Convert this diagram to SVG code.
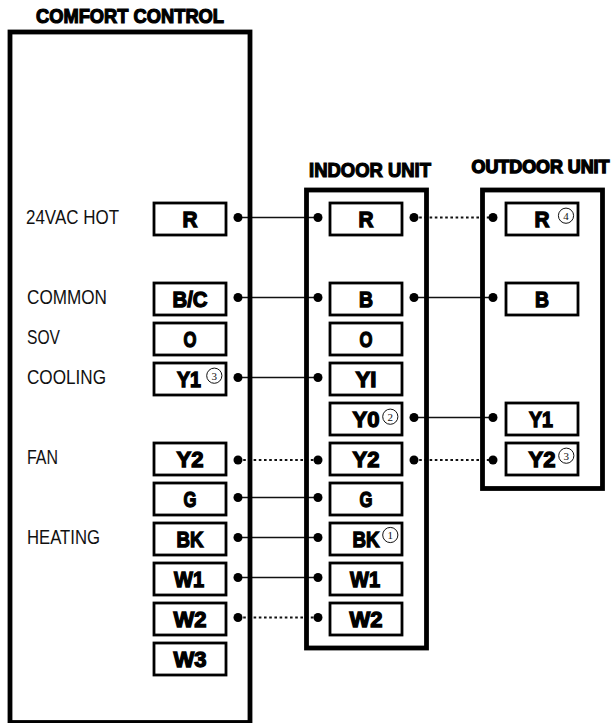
<svg xmlns="http://www.w3.org/2000/svg" width="613" height="723" viewBox="0 0 613 723">
<style>
.frame{fill:none;stroke:#000;stroke-width:4.8}
.box{fill:#fff;stroke:#000;stroke-width:2.8}
.t{font-family:"Liberation Sans",Arial,sans-serif;font-weight:700;font-size:21.5px;fill:#000;stroke:#000;stroke-width:1.3;text-anchor:middle}
.h{font-family:"Liberation Sans",Arial,sans-serif;font-weight:700;font-size:19.5px;fill:#000;stroke:#000;stroke-width:1.2}
.l{font-family:"Liberation Sans",Arial,sans-serif;font-size:20.5px;fill:#111}
.c{fill:#fff;stroke:#111;stroke-width:1}
.n{font-family:"Liberation Serif",serif;font-size:11px;fill:#111;text-anchor:middle}
.w{stroke:#111;stroke-width:1.7;fill:none}
.d{stroke-dasharray:2.6 2.6;stroke-width:1.9}
.dot{fill:#000}
</style>
<g id="connectors">
<path class="w" d="M238 217.5H318M238 297.5H318M414 297.5H493M238 377.5H318M414 417.5H493M238 497.5H318M238 537.5H318M238 577.5H318"/>
<path class="w d" d="M414 217.5H493M238 460H318M414 460H493M238 617.5H318"/>
</g>
<g id="comfort-control">
<rect class="frame" x="10" y="32" width="240" height="690.5"/>
<text class="h" x="36" y="23" textLength="188" lengthAdjust="spacingAndGlyphs">COMFORT CONTROL</text>
<text class="l" x="26" y="224" textLength="93" lengthAdjust="spacingAndGlyphs">24VAC HOT</text>
<text class="l" x="27" y="304" textLength="80" lengthAdjust="spacingAndGlyphs">COMMON</text>
<text class="l" x="27" y="344" textLength="33" lengthAdjust="spacingAndGlyphs">SOV</text>
<text class="l" x="27" y="384" textLength="79" lengthAdjust="spacingAndGlyphs">COOLING</text>
<text class="l" x="27" y="464" textLength="31" lengthAdjust="spacingAndGlyphs">FAN</text>
<text class="l" x="27" y="544" textLength="73" lengthAdjust="spacingAndGlyphs">HEATING</text>
<g id="cc-r"><rect class="box" x="154" y="203" width="72" height="32"/><text class="t" x="190" y="227" textLength="15" lengthAdjust="spacingAndGlyphs">R</text><circle class="dot" cx="238" cy="217.5" r="4.5"/></g>
<g id="cc-bc"><rect class="box" x="154" y="283" width="72" height="32"/><text class="t" x="190" y="307" textLength="35" lengthAdjust="spacingAndGlyphs">B/C</text><circle class="dot" cx="238" cy="297.5" r="4.5"/></g>
<g id="cc-o"><rect class="box" x="154" y="323" width="72" height="32"/><text class="t" x="190" y="347" textLength="13" lengthAdjust="spacingAndGlyphs">O</text></g>
<g id="cc-y1"><rect class="box" x="154" y="363" width="72" height="32"/><text class="t" x="189" y="387" textLength="24" lengthAdjust="spacingAndGlyphs">Y1</text><circle class="c" cx="214.3" cy="375.7" r="7.6"/><text class="n" x="214.3" y="379.5">3</text><circle class="dot" cx="238" cy="377.5" r="4.5"/></g>
<g id="cc-y2"><rect class="box" x="154" y="443" width="72" height="32"/><text class="t" x="190" y="467" textLength="27" lengthAdjust="spacingAndGlyphs">Y2</text><circle class="dot" cx="238" cy="460" r="4.5"/></g>
<g id="cc-g"><rect class="box" x="154" y="483" width="72" height="32"/><text class="t" x="190" y="507" textLength="13" lengthAdjust="spacingAndGlyphs">G</text><circle class="dot" cx="238" cy="497.5" r="4.5"/></g>
<g id="cc-bk"><rect class="box" x="154" y="523" width="72" height="32"/><text class="t" x="190" y="547" textLength="27" lengthAdjust="spacingAndGlyphs">BK</text><circle class="dot" cx="238" cy="537.5" r="4.5"/></g>
<g id="cc-w1"><rect class="box" x="154" y="563" width="72" height="32"/><text class="t" x="189" y="587" textLength="30" lengthAdjust="spacingAndGlyphs">W1</text><circle class="dot" cx="238" cy="577.5" r="4.5"/></g>
<g id="cc-w2"><rect class="box" x="154" y="603" width="72" height="32"/><text class="t" x="190" y="627" textLength="33" lengthAdjust="spacingAndGlyphs">W2</text><circle class="dot" cx="238" cy="617.5" r="4.5"/></g>
<g id="cc-w3"><rect class="box" x="154" y="643" width="72" height="32"/><text class="t" x="190" y="667" textLength="33" lengthAdjust="spacingAndGlyphs">W3</text></g>
</g>
<g id="indoor-unit">
<rect class="frame" x="306.5" y="190" width="120" height="458"/>
<text class="h" x="309" y="177" textLength="122" lengthAdjust="spacingAndGlyphs">INDOOR UNIT</text>
<g id="in-r"><rect class="box" x="330" y="203" width="72" height="32"/><text class="t" x="366" y="227" textLength="15" lengthAdjust="spacingAndGlyphs">R</text><circle class="dot" cx="318" cy="217.5" r="4.5"/><circle class="dot" cx="414" cy="217.5" r="4.5"/></g>
<g id="in-b"><rect class="box" x="330" y="283" width="72" height="32"/><text class="t" x="366" y="307" textLength="14" lengthAdjust="spacingAndGlyphs">B</text><circle class="dot" cx="318" cy="297.5" r="4.5"/><circle class="dot" cx="414" cy="297.5" r="4.5"/></g>
<g id="in-o"><rect class="box" x="330" y="323" width="72" height="32"/><text class="t" x="366" y="347" textLength="13" lengthAdjust="spacingAndGlyphs">O</text></g>
<g id="in-yi"><rect class="box" x="330" y="363" width="72" height="32"/><text class="t" x="366" y="387" textLength="21" lengthAdjust="spacingAndGlyphs">YI</text><circle class="dot" cx="318" cy="377.5" r="4.5"/></g>
<g id="in-y0"><rect class="box" x="330" y="403" width="72" height="32"/><text class="t" x="366" y="427" textLength="27" lengthAdjust="spacingAndGlyphs">Y0</text><circle class="c" cx="390.3" cy="416.7" r="7.6"/><text class="n" x="390.3" y="420.5">2</text><circle class="dot" cx="414" cy="417.5" r="4.5"/></g>
<g id="in-y2"><rect class="box" x="330" y="443" width="72" height="32"/><text class="t" x="366" y="467" textLength="27" lengthAdjust="spacingAndGlyphs">Y2</text><circle class="dot" cx="318" cy="460" r="4.5"/><circle class="dot" cx="414" cy="460" r="4.5"/></g>
<g id="in-g"><rect class="box" x="330" y="483" width="72" height="32"/><text class="t" x="366" y="507" textLength="13" lengthAdjust="spacingAndGlyphs">G</text><circle class="dot" cx="318" cy="497.5" r="4.5"/></g>
<g id="in-bk"><rect class="box" x="330" y="523" width="72" height="32"/><text class="t" x="366" y="547" textLength="27" lengthAdjust="spacingAndGlyphs">BK</text><circle class="c" cx="390.3" cy="535" r="7.6"/><text class="n" x="390.3" y="538.8">1</text><circle class="dot" cx="318" cy="537.5" r="4.5"/></g>
<g id="in-w1"><rect class="box" x="330" y="563" width="72" height="32"/><text class="t" x="365" y="587" textLength="30" lengthAdjust="spacingAndGlyphs">W1</text><circle class="dot" cx="318" cy="577.5" r="4.5"/></g>
<g id="in-w2"><rect class="box" x="330" y="603" width="72" height="32"/><text class="t" x="366" y="627" textLength="33" lengthAdjust="spacingAndGlyphs">W2</text><circle class="dot" cx="318" cy="617.5" r="4.5"/></g>
</g>
<g id="outdoor-unit">
<rect class="frame" x="482.5" y="190" width="120" height="298.5"/>
<text class="h" style="font-size:18px;stroke-width:1.4" x="471.5" y="173" textLength="138" lengthAdjust="spacingAndGlyphs">OUTDOOR UNIT</text>
<g id="out-r"><rect class="box" x="506" y="203" width="72" height="32"/><text class="t" x="542" y="227" textLength="15" lengthAdjust="spacingAndGlyphs">R</text><circle class="c" cx="566" cy="215.7" r="7.6"/><text class="n" x="566" y="219.5">4</text><circle class="dot" cx="493" cy="217.5" r="4.5"/></g>
<g id="out-b"><rect class="box" x="506" y="283" width="72" height="32"/><text class="t" x="542" y="307" textLength="14" lengthAdjust="spacingAndGlyphs">B</text><circle class="dot" cx="493" cy="297.5" r="4.5"/></g>
<g id="out-y1"><rect class="box" x="506" y="403" width="72" height="32"/><text class="t" x="541" y="427" textLength="24" lengthAdjust="spacingAndGlyphs">Y1</text><circle class="dot" cx="493" cy="417.5" r="4.5"/></g>
<g id="out-y2"><rect class="box" x="506" y="443" width="72" height="32"/><text class="t" x="542" y="467" textLength="27" lengthAdjust="spacingAndGlyphs">Y2</text><circle class="c" cx="566.3" cy="455.7" r="7.6"/><text class="n" x="566.3" y="459.5">3</text><circle class="dot" cx="493" cy="460" r="4.5"/></g>
</g>
</svg>
